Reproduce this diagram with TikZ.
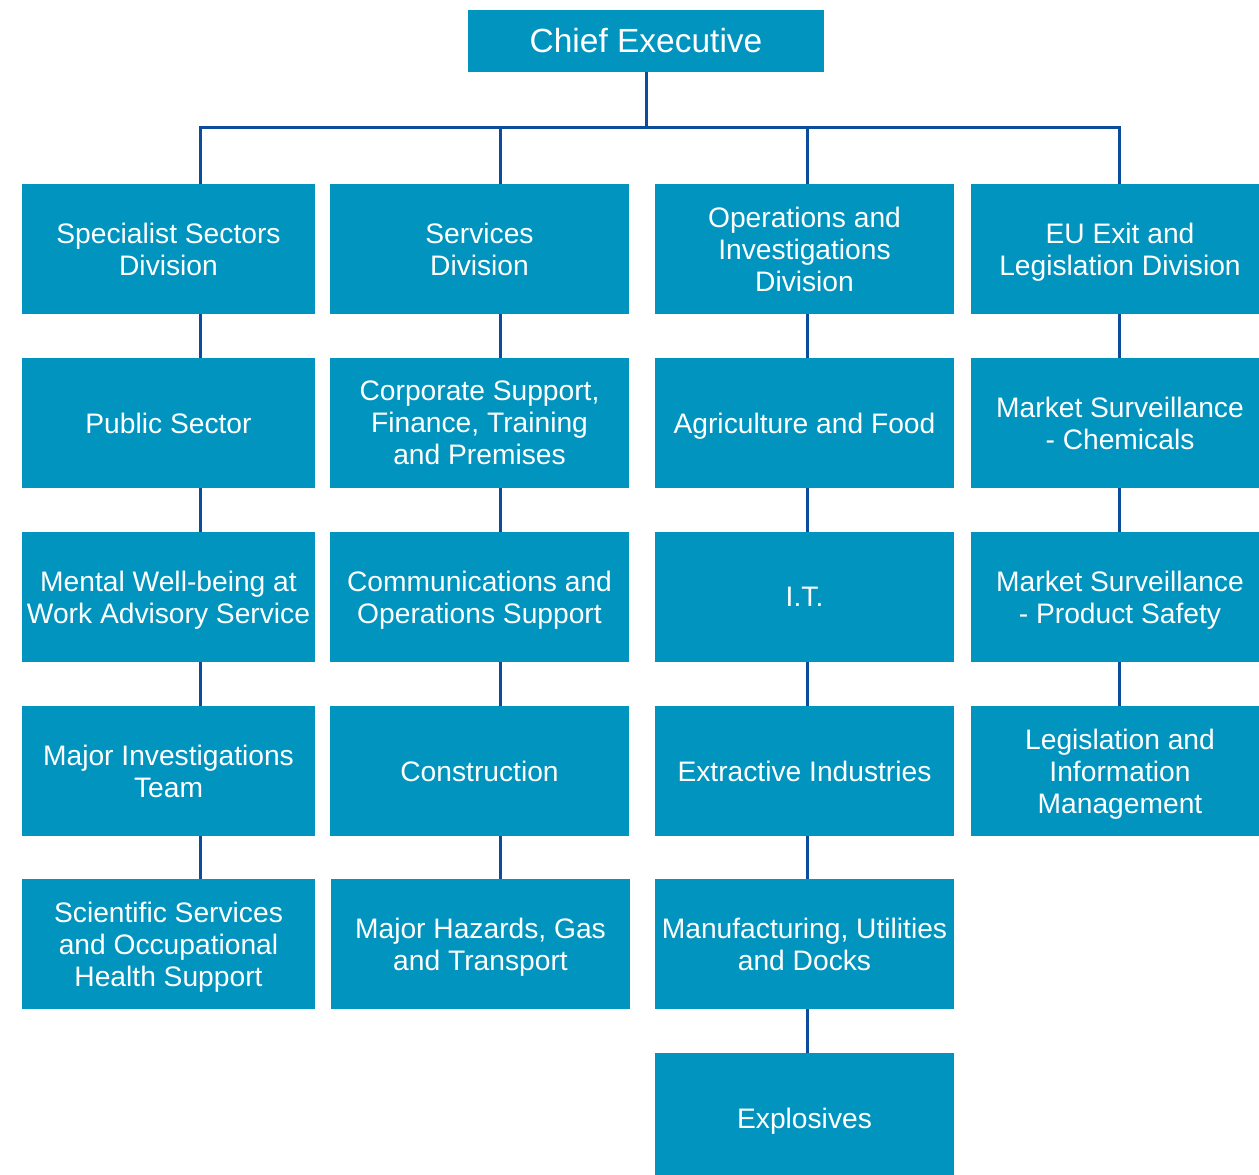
\documentclass[tikz,border=0pt]{standalone}
\usepackage{fontspec}
\setmainfont{Liberation Sans}
\definecolor{boxc}{HTML}{0094BF}
\definecolor{linec}{HTML}{0B4C9C}
\begin{document}
\begin{tikzpicture}[x=1pt,y=-1pt,
  box/.style={fill=boxc, text=white, inner sep=0pt, align=center, text depth=0pt, minimum height=130pt, font=\fontsize{28.2}{32}\selectfont},
  wa/.style={minimum width=293pt},
  wb/.style={minimum width=299pt},
  wd/.style={minimum width=298pt},
  conn/.style={draw=linec, line width=3pt}]
\useasboundingbox (0,0) rectangle (1259,1175);
% coordinates of connector columns
\coordinate (x1) at (200,0);
\coordinate (x2) at (500,0);
\coordinate (x3) at (807,0);
\coordinate (x4) at (1119,0);
\coordinate (bus) at (646,127);
% chief
\node[fill=boxc, text=white, inner sep=0pt, minimum width=356pt, minimum height=62pt, font=\fontsize{33.5}{36}\selectfont] (ce) at (646,41) {Chief Executive};
% column 1
\node[box,wa] (a1) at (168.5,249) {Specialist Sectors\\Division};
\node[box,wa] (a2) at (168.5,423) {Public Sector};
\node[box,wa] (a3) at (168.5,597) {Mental Well-being at\\Work Advisory Service};
\node[box,wa] (a4) at (168.5,771) {Major Investigations\\Team};
\node[box,wa] (a5) at (168.5,944) {Scientific Services\\and Occupational\\Health Support};
% column 2
\node[box,wb] (b1) at (479.5,249) {Services\\Division};
\node[box,wb] (b2) at (479.5,423) {Corporate Support,\\Finance, Training\\and Premises};
\node[box,wb] (b3) at (479.5,597) {Communications and\\Operations Support};
\node[box,wb] (b4) at (479.5,771) {Construction};
\node[box,wb] (b5) at (480.5,944) {Major Hazards, Gas\\and Transport};
% column 3
\node[box,wb] (c1) at (804.5,249) {Operations and\\Investigations\\Division};
\node[box,wb] (c2) at (804.5,423) {Agriculture and Food};
\node[box,wb] (c3) at (804.5,597) {I.T.};
\node[box,wb] (c4) at (804.5,771) {Extractive Industries};
\node[box,wb] (c5) at (804.5,944) {Manufacturing, Utilities\\and Docks};
\node[box,wb] (c6) at (804.5,1118) {Explosives};
% column 4 (box runs past the right edge)
\node[box,wd] (d1) at (1120,249) {EU Exit and\\Legislation Division};
\node[box,wd] (d2) at (1120,423) {Market Surveillance\\- Chemicals};
\node[box,wd] (d3) at (1120,597) {Market Surveillance\\- Product Safety};
\node[box,wd] (d4) at (1120,771) {Legislation and\\Information\\Management};
% connectors from chief
\draw[conn] (ce.south) -- (bus);
\draw[conn] (a1.north -| x1) -- (bus -| x1) -- (bus -| x4) -- (d1.north -| x4);
\draw[conn] (b1.north -| x2) -- (bus -| x2);
\draw[conn] (c1.north -| x3) -- (bus -| x3);
% column chains
\foreach \u/\v in {a1/a2,a2/a3,a3/a4,a4/a5} \draw[conn] (\u.south -| x1) -- (\v.north -| x1);
\foreach \u/\v in {b1/b2,b2/b3,b3/b4,b4/b5} \draw[conn] (\u.south -| x2) -- (\v.north -| x2);
\foreach \u/\v in {c1/c2,c2/c3,c3/c4,c4/c5,c5/c6} \draw[conn] (\u.south -| x3) -- (\v.north -| x3);
\foreach \u/\v in {d1/d2,d2/d3,d3/d4} \draw[conn] (\u.south -| x4) -- (\v.north -| x4);
\end{tikzpicture}
\end{document}
